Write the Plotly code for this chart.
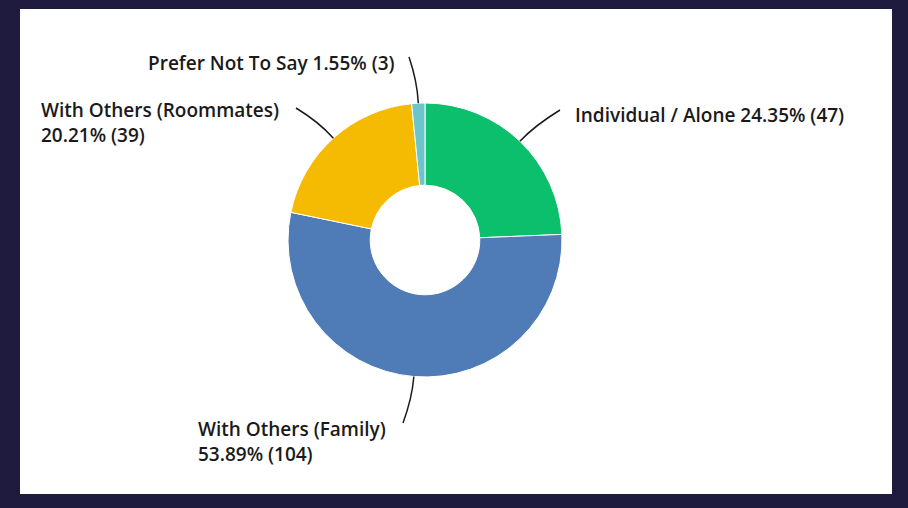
import math
import plotly.graph_objects as go

# Living situation survey results
labels = ["Individual / Alone", "With Others (Family)", "With Others (Roommates)", "Prefer Not To Say"]
percents = [24.35, 53.89, 20.21, 1.55]
counts = [47, 104, 39, 3]
colors = ["#0bbf6d", "#4f7bb7", "#f5bb03", "#6bc5ca"]

W, H = 908, 508
CX, CY, R = 425, 240, 137          # donut centre and outer radius (px)


def px(x):
    return x / W


def py(y):
    return 1 - y / H


fig = go.Figure(go.Pie(
    labels=labels,
    values=counts,
    marker=dict(colors=colors, line=dict(color="white", width=1)),
    hole=0.4,
    sort=False,
    direction="clockwise",
    rotation=0,
    textinfo="none",
    hoverinfo="label+percent+value",
    domain=dict(x=[px(CX - R), px(CX + R)], y=[py(CY + R), py(CY - R)]),
    showlegend=False,
))

# Leader-line end points and label placement (px)
label_specs = [
    dict(end=(560, 110), text=f"{labels[0]} {percents[0]:.2f}% ({counts[0]})",
         pos=(573, 115)),
    dict(end=(403, 423), text=f"{labels[1]}<br>{percents[1]:.2f}% ({counts[1]})",
         pos=(196, 441)),
    dict(end=(296, 108), text=f"{labels[2]}<br>{percents[2]:.2f}% ({counts[2]})",
         pos=(39, 122)),
    dict(end=(409, 57), text=f"{labels[3]} {percents[3]:.2f}% ({counts[3]})",
         pos=(146, 63)),
]

shapes = [dict(type="rect", xref="paper", yref="paper",
               x0=px(20), x1=px(892), y0=py(494), y1=py(9),
               fillcolor="white", line=dict(width=0), layer="below")]
annotations = []

total = sum(counts)
cum = 0.0
for val, spec in zip(counts, label_specs):
    mid = (cum + val / 2) / total * 2 * math.pi   # clockwise from 12 o'clock
    cum += val
    dx, dy = math.sin(mid), -math.cos(mid)
    sx, sy = CX + R * dx, CY + R * dy
    cx, cy = CX + (R + 22) * dx, CY + (R + 22) * dy
    ex, ey = spec["end"]
    path = (f"M {px(sx)},{py(sy)} Q {px(cx)},{py(cy)} {px(ex)},{py(ey)}")
    shapes.append(dict(type="path", xref="paper", yref="paper", path=path,
                       line=dict(color="#1a1a1a", width=1.5), layer="above"))
    annotations.append(dict(
        x=px(spec["pos"][0]), y=py(spec["pos"][1]), xref="paper", yref="paper",
        text=spec["text"], showarrow=False, xanchor="left",
        yanchor="middle", align="left",
        font=dict(family="Open Sans", size=19, color="#1a1a1a", weight=600),
    ))

fig.update_layout(
    width=W, height=H,
    margin=dict(l=0, r=0, t=0, b=0),
    paper_bgcolor="#1e1b3e",
    shapes=shapes,
    annotations=annotations,
)

fig.write_html("out.html")
